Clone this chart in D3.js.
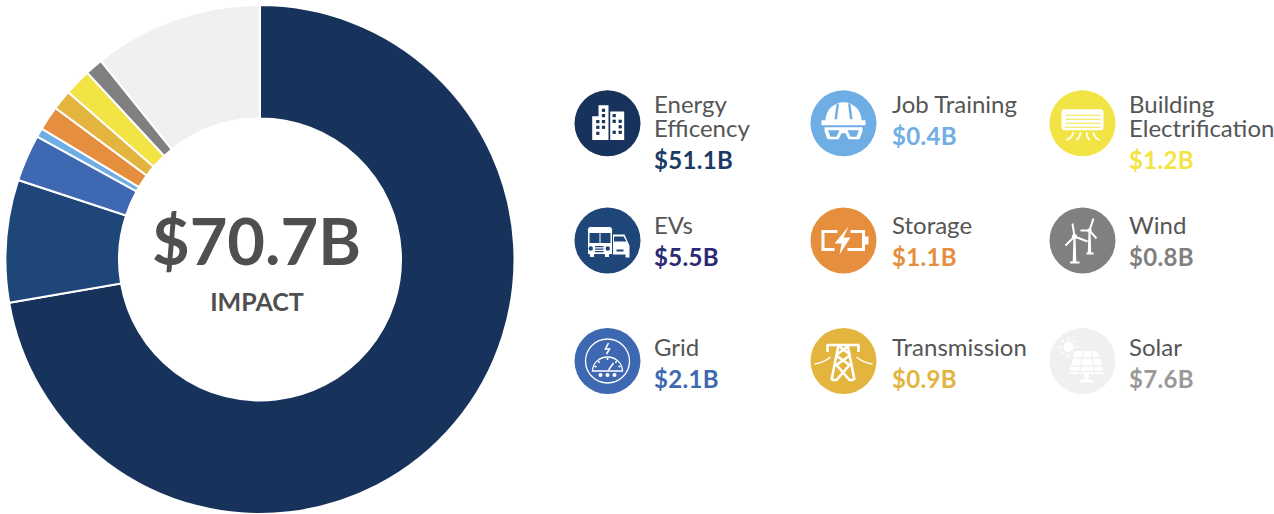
<!DOCTYPE html>
<html><head><meta charset="utf-8">
<script src="https://cdn.jsdelivr.net/npm/d3@7/dist/d3.min.js"></script>
<style>html,body{margin:0;padding:0;background:#fff;overflow:hidden}svg{display:block}text{font-family:Lato,"Open Sans",sans-serif}</style>
</head><body><svg id="c" width="1274" height="514"></svg>
<script>
const categories=["Energy Efficency","EVs","Grid","Job Training","Storage","Transmission","Building Electrification","Wind","Solar"];
const values=[51.1,5.5,2.1,0.4,1.1,0.9,1.2,0.8,7.6];
const sliceColors=["#17335b","#1f4679","#3e68b1","#6fade5","#e58e3d","#e3b43e","#f2e444","#808080","#f0f0f0"];
const valueColors=["#1c3a63","#2b2a74","#3e68b1","#6fade5","#e58e3d","#e3b43e","#f2e444","#808080","#999999"];
const labelLines=[["Energy","Efficency"],["EVs"],["Grid"],["Job Training"],["Storage"],["Transmission"],["Building","Electrification"],["Wind"],["Solar"]];
const totalLabel="$70.7B", subLabel="IMPACT";
const legendCols=[607.5,843.5,1082.5], legendRows=[123.3,240.5,361];
const textX=[654,892,1129], labelBase=[113,234,356];

const svg=d3.select("#c");
const cx=260,cy=259.5;
const pie=d3.pie().sort(null).value(d=>d)(values);
const arc=d3.arc().innerRadius(141).outerRadius(254.5);
svg.append("g").attr("transform",`translate(${cx},${cy})`).selectAll("path").data(pie).join("path")
  .attr("d",arc).attr("fill",(d,i)=>sliceColors[i]).attr("stroke","#fff").attr("stroke-width",2);
svg.append("text").attr("x",256.5).attr("y",265).attr("text-anchor","middle").attr("font-size",65).attr("font-weight",700).attr("fill","#4f4f4f").text(totalLabel);
svg.append("text").attr("x",257).attr("y",311).attr("text-anchor","middle").attr("font-size",25).attr("font-weight",700).attr("fill","#4f4f4f").text(subLabel);

const W="#fff";
const icons={
 0(g,c){ g.append("path").attr("fill",W).attr("d","M-15.3,-7H-9V-18H1V16.7H-15.3ZM2.7,-11.7H16.7V16.7H2.7Z");
   [[-4,-13],[-4,-7.7],[-9.7,-1.7],[-4,-1.7],[-9.7,4],[-4,4],[-9.7,10],[6.7,-7.7],[6.7,-2],[12.7,-2],[6.7,9],[12.7,9],[12.7,3.5]].forEach(p=>g.append("rect").attr("x",p[0]-1.6).attr("y",p[1]-1.6).attr("width",3.2).attr("height",3.2).attr("fill",c));},
 1(g,c){ g.append("path").attr("fill",W).attr("d","M5,-6H17L21,3L22,5V17H18V14H5Z");
   g.append("path").attr("fill",c).attr("d","M6.5,-4H16L19,1H6.5ZM9,9H16V11H9Z");
   g.append("path").attr("fill",W).attr("stroke",c).attr("stroke-width",1).attr("d","M-20,-11Q-20,-14 -17,-14H2Q5,-14 5,-11V14H2V17H-3V14H-13V17H-18V14H-20Z");
   g.append("path").attr("fill",c).attr("d","M-18,-7.5H-8V2.5H-18ZM-7,-7.5H3V2.5H-7ZM-12.5,5.5H-4V6.7H-12.5ZM-12.5,8H-4V9.2H-12.5ZM-12.5,10.5H-4V11.7H-12.5Z");
   [-16.7,0.3].forEach(x=>g.append("circle").attr("cx",x).attr("cy",8).attr("r",2.2).attr("fill",c));},
 2(g,c){ g.attr("fill","none").attr("stroke",W).attr("stroke-width",1.3);
   g.append("circle").attr("r",22);
   g.append("path").attr("d","M-15,10A15,14 0 0 1 15,10Z");
   g.append("path").attr("stroke-width",1.6).attr("d","M1,9L6,2M1,-18L-2,-12H2L-1,-7M0,-3V-1M-9,0L-8,2M9,0L8,2M-13,5L-11,6M13,5L11,6");
   [-7,0,7].forEach(x=>g.append("circle").attr("cx",x).attr("cy",14).attr("r",2).attr("fill",W).attr("stroke","none"));},
 3(g,c){ g.append("path").attr("fill",W).attr("d","M-18,-3A18,18 0 0 1 18,-3H22V2H-22V-3Z");
   g.append("path").attr("fill",c).attr("d","M-7,-19L-9,-4H-6.5L-4.5,-20ZM7,-19L9,-4H6.5L4.5,-20Z");
   g.append("path").attr("fill",W).attr("fill-rule","evenodd").attr("d","M-19,4H19V8L16,16H5L2,10H-2L-5,16H-16L-19,8ZM-15.5,7L-13,13.5H-7L-4,7ZM15.5,7L13,13.5H7L4,7Z");},
 4(g,c){ g.attr("fill","none").attr("stroke",W).attr("stroke-width",3);
   g.append("path").attr("d","M-6,-9H-20.5V9H-9M7,-9H20V9H4");
   g.append("path").attr("fill",W).attr("stroke","none").attr("d","M5,-14L-9,3H-2L-4,14L7,-3H0ZM21,-4H25V4H21Z");},
 5(g,c){ g.attr("fill","none").attr("stroke",W);
   g.append("path").attr("stroke-width",2.6).attr("d","M-17,-16H16M-16,-16V-9M15,-16V-9M-12,19L-5,-16M11,19L4,-16M-12,19H-7L6,4L-8,-6M10,19H6L-7,4L7,-6M-6,-16L7,-6M6,-16L-7,-6");
   g.append("path").attr("stroke-width",1.4).attr("d","M-29,3Q-20,2 -13,-4M29,3Q20,2 13,-4");},
 6(g,c){ g.append("path").attr("fill",W).attr("d","M-18,-14H18Q21,-14 21,-11V4Q21,7 18,7H-18Q-21,7 -21,4V-11Q-21,-14 -18,-14Z");
   g.append("path").attr("stroke",c).attr("stroke-width",1.1).attr("fill","none").attr("d","M-17,-8H18M-17,-4H18M-17,0H18M-18,4H18");
   g.append("path").attr("stroke",W).attr("stroke-width",1.8).attr("fill","none").attr("d","M-9,9Q-10,14 -16,17M-2,9Q-2,13 -6,17M4,9Q4,13 7,17M11,9Q11,14 17,17");},
 7(g,c){ g.append("path").attr("fill",W).attr("d","M-9,-4H-7L-6.2,21H-3V23H-12.5V21H-9.8ZM6,-10H8L8.7,12H11V14H4V12H5.3Z");
   g.append("path").attr("stroke",W).attr("stroke-width",2).attr("fill","none").attr("d","M-8,-4L-10,-17M-8,-4L-17,5M-8,-4L5,1M7,-10L11,-22M7,-10L-2,-10M7,-10L14,-2");
   g.append("circle").attr("cx",-8).attr("cy",-4).attr("r",2.6).attr("fill",W);
   g.append("circle").attr("cx",7).attr("cy",-10).attr("r",2.2).attr("fill",W);},
 8(g,c){ g.append("path").attr("fill",W).attr("d","M-7,-10H15L22,13H-14ZM2,13H6V19H11V21.5H-3V19H2Z");
   g.append("path").attr("stroke",c).attr("stroke-width",1.5).attr("fill","none").attr("d","M-9,-3H17M-11,5H20M-14,10.5H22M1,-10L-3,13M9,-10L12,13");
   g.append("circle").attr("cx",-14).attr("cy",-14).attr("r",5).attr("fill",W);
   g.append("path").attr("stroke",W).attr("stroke-width",1.6).attr("d","M-14,-24V-21M-14,-7V-4M-24,-14H-21M-7,-14H-4M-21,-21L-19,-19M-9,-9L-7,-7M-21,-7L-19,-9M-9,-19L-7,-21");}
};
categories.forEach((name,i)=>{
  const col=Math.floor(i/3),row=i%3;
  const g=svg.append("g").attr("transform",`translate(${legendCols[col]},${legendRows[row]})`);
  g.append("circle").attr("r",33).attr("fill",sliceColors[i]);
  icons[i](g.append("g"),sliceColors[i]);
  const lines=labelLines[i], base=labelBase[row];
  const t=svg.append("text").attr("font-size",24).attr("fill","#555");
  lines.forEach((l,k)=>t.append("tspan").attr("x",textX[col]).attr("y",base+k*24).text(l));
  svg.append("text").attr("x",textX[col]).attr("y",base+(lines.length-1)*24+32).attr("font-size",24).attr("font-weight",700).attr("letter-spacing",0.3).attr("fill",valueColors[i]).text("$"+values[i].toFixed(1)+"B");
});
</script></body></html>
